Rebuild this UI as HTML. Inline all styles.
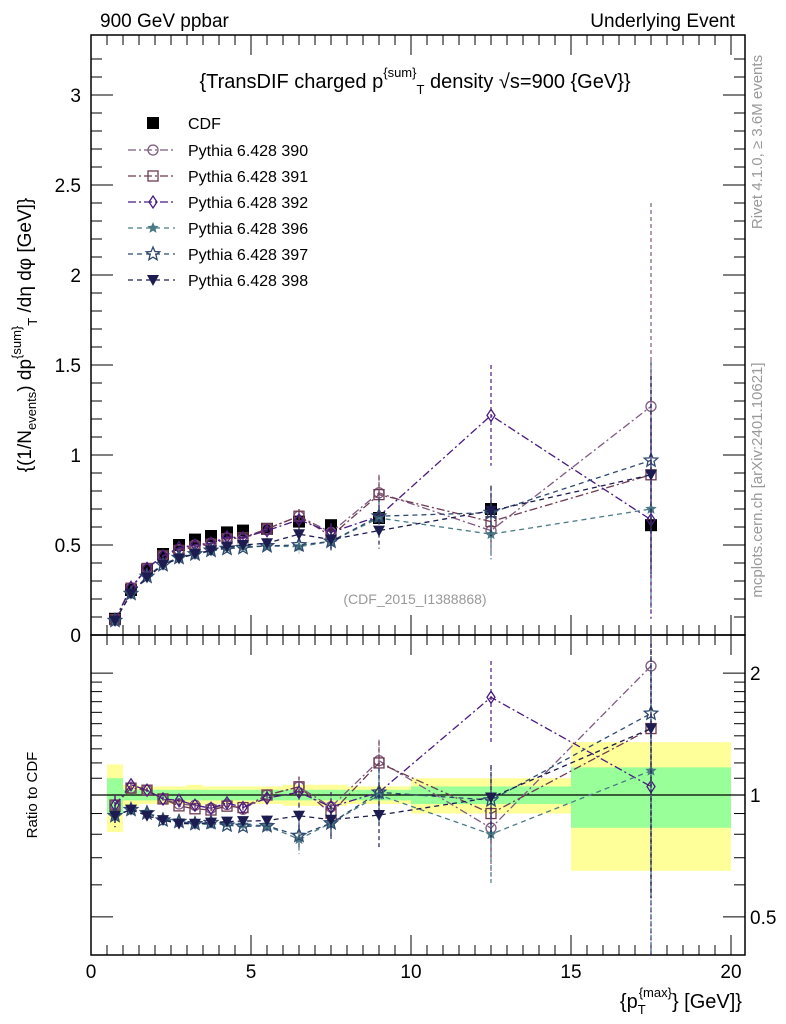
<!DOCTYPE html>
<html><head><meta charset="utf-8"><style>
body{margin:0;background:#fff;}
svg{display:block;font-family:"Liberation Sans",sans-serif;}
</style></head><body>
<svg id="c" width="786" height="1024" xmlns="http://www.w3.org/2000/svg"></svg>
<script>
const xs=[0.75,1.25,1.75,2.25,2.75,3.25,3.75,4.25,4.75,5.5,6.5,7.5,9,12.5,17.5];
const cdf=[0.09,0.25,0.36,0.45,0.50,0.53,0.55,0.57,0.58,0.59,0.63,0.61,0.65,0.70,0.61];
const cdfErr=[0.005,0.005,0.005,0.005,0.005,0.005,0.005,0.005,0.006,0.006,0.008,0.01,0.015,0.03,0.05];
const s390=[0.085,0.26,0.37,0.44,0.475,0.50,0.51,0.54,0.535,0.59,0.66,0.57,0.79,0.58,1.27];
const s391=[0.085,0.26,0.37,0.44,0.47,0.49,0.505,0.535,0.54,0.59,0.66,0.55,0.78,0.63,0.89];
const s392=[0.085,0.265,0.37,0.44,0.485,0.50,0.51,0.545,0.54,0.58,0.64,0.57,0.66,1.22,0.64];
const s396=[0.08,0.23,0.325,0.395,0.43,0.45,0.465,0.485,0.49,0.495,0.49,0.52,0.65,0.56,0.70];
const s397=[0.08,0.23,0.325,0.39,0.43,0.45,0.47,0.48,0.485,0.495,0.50,0.52,0.66,0.68,0.97];
const s398=[0.08,0.23,0.32,0.39,0.425,0.45,0.47,0.49,0.50,0.51,0.56,0.53,0.58,0.69,0.89];
const mcErr=[0.005,0.005,0.005,0.006,0.006,0.007,0.008,0.01,0.012,0.015,0.04,0.05,0.1,0.14,0.55];
const err390=[0.005,0.005,0.005,0.006,0.006,0.007,0.008,0.01,0.012,0.015,0.04,0.05,0.1,0.14,1.13];
const err392=[0.005,0.005,0.005,0.006,0.006,0.007,0.008,0.01,0.012,0.015,0.04,0.05,0.1,0.28,0.55];
const binEdges=[0.5,1,1.5,2,2.5,3,3.5,4,4.5,5,6,7,8,10,15,20];
const bandY=[0.19,0.06,0.05,0.05,0.05,0.06,0.05,0.05,0.05,0.05,0.06,0.06,0.05,0.1,0.35];
const bandG=[0.1,0.03,0.03,0.03,0.03,0.03,0.03,0.03,0.03,0.03,0.03,0.03,0.03,0.05,0.17];
const xTicks=[0,5,10,15,20];
const yTicks=[0,0.5,1,1.5,2,2.5,3];
const rTicks=[0.5,1,2];

const S=document.getElementById('c');const NS='http://www.w3.org/2000/svg';
function mk(t,a,p){const e=document.createElementNS(NS,t);for(const k in a)e.setAttribute(k,a[k]);(p||S).appendChild(e);return e;}
const L=91,R=745,T=35,MB=635,RB=955;
const X=v=>L+v*32;
const Y=v=>MB-v*180;
const YR=v=>795-405*Math.log10(v);

const gb=mk('g',{});
for(let i=0;i<bandY.length;i++){
 const x0=X(binEdges[i]),x1=X(binEdges[i+1]);
 mk('rect',{x:x0,y:YR(1+bandY[i]),width:x1-x0,height:YR(1-bandY[i])-YR(1+bandY[i]),fill:'#ffff99'},gb);
}
for(let i=0;i<bandG.length;i++){
 const x0=X(binEdges[i]),x1=X(binEdges[i+1]);
 mk('rect',{x:x0,y:YR(1+bandG[i]),width:x1-x0,height:YR(1-bandG[i])-YR(1+bandG[i]),fill:'#99ff99'},gb);
}
mk('line',{x1:L,x2:R,y1:YR(1),y2:YR(1),stroke:'#000','stroke-width':1.3});

const f1=mk('rect',{x:L,y:T,width:R-L,height:MB-T,fill:'none',stroke:'#000','stroke-width':1.5});

const f2=mk('rect',{x:L,y:MB,width:R-L,height:RB-MB,fill:'none',stroke:'#000','stroke-width':1.5});


for(let v=0;v<=20.01;v+=0.5){
 const big=Math.abs(v%5)<1e-6;const len=big?20:10;
 [[T,1],[MB,-1],[MB,1],[RB,-1]].forEach(([y,d])=>mk('line',{x1:X(v),x2:X(v),y1:y,y2:y+d*len,stroke:'#000','stroke-width':1}));
}
xTicks.forEach(v=>{const t=mk('text',{x:X(v),y:978,'font-size':19,'text-anchor':'middle'});t.textContent=v;
 });
for(let v=0;v<=3.3;v+=0.1){const big=Math.abs(v*2-Math.round(v*2))<1e-6;const len=big?22:11;const y=Y(v);
 mk('line',{x1:L,x2:L+len,y1:y,y2:y,stroke:'#000'});mk('line',{x1:R,x2:R-len,y1:y,y2:y,stroke:'#000'});}
yTicks.forEach(v=>{const t=mk('text',{x:81,y:Y(v)+7,'font-size':19,'text-anchor':'end'});t.textContent=v;
 });
for(let v of [0.4,0.5,0.6,0.7,0.8,0.9,1,1.1,1.2,1.3,1.4,1.5,1.6,1.7,1.8,1.9,2]){const y=YR(v);if(y>RB||y<MB)continue;
 const big=(v==0.5||v==1||v==2);const len=big?22:11;
 mk('line',{x1:L,x2:L+len,y1:y,y2:y,stroke:'#000'});mk('line',{x1:R,x2:R-len,y1:y,y2:y,stroke:'#000'});}
rTicks.forEach(v=>{const t=mk('text',{x:750,y:YR(v)+7,'font-size':19});t.textContent=v;
 });

const series=[
 {n:'390',d:s390,e:err390,c:'#7e5a80',m:'circle',dash:'8,3,2,3'},
 {n:'391',d:s391,e:mcErr,c:'#6e3a50',m:'square',dash:'8,3,2,3'},
 {n:'392',d:s392,e:err392,c:'#4a1a80',m:'diamond',dash:'8,3,2,3'},
 {n:'396',d:s396,e:mcErr,c:'#4a7a84',m:'star',dash:'5,4'},
 {n:'397',d:s397,e:mcErr,c:'#2e4a6e',m:'ostar',dash:'5,4'},
 {n:'398',d:s398,e:mcErr,c:'#1c1c50',m:'tri',dash:'5,4'}];
function star(x,y,r){let p=[];for(let i=0;i<10;i++){const a=-Math.PI/2+i*Math.PI/5;const rr=i%2?r*0.45:r;p.push((x+rr*Math.cos(a)).toFixed(1)+','+(y+rr*Math.sin(a)).toFixed(1));}return p.join(' ');}
function marker(g,m,x,y,c){
 if(m=='circle')mk('circle',{cx:x,cy:y,r:5,fill:'none',stroke:c,'stroke-width':1.3},g);
 if(m=='square')mk('rect',{x:x-5,y:y-5,width:10,height:10,fill:'none',stroke:c,'stroke-width':1.3},g);
 if(m=='diamond')mk('polygon',{points:`${x},${y-6} ${x+4},${y} ${x},${y+6} ${x-4},${y}`,fill:'none',stroke:c,'stroke-width':1.3},g);
 if(m=='star')mk('polygon',{points:star(x,y,6),fill:c},g);
 if(m=='ostar')mk('polygon',{points:star(x,y,7),fill:'none',stroke:c,'stroke-width':1.3},g);
 if(m=='tri')mk('polygon',{points:`${x-6},${y-5} ${x+6},${y-5} ${x},${y+6}`,fill:c},g);
 if(m=='sq')mk('rect',{x:x-6,y:y-6,width:12,height:12,fill:c},g);
}
const gc=mk('g',{});
xs.forEach((x,i)=>{mk('line',{x1:X(x),x2:X(x),y1:Y(cdf[i]+cdfErr[i]),y2:Y(cdf[i]-cdfErr[i]),stroke:'#000'},gc);marker(gc,'sq',X(x),Y(cdf[i]),'#000');});
series.forEach(s=>{
 const g=mk('g',{});
 const pm=xs.map((x,i)=>X(x)+','+Y(s.d[i])).join(' ');
 mk('polyline',{points:pm,fill:'none',stroke:s.c,'stroke-width':1.3,'stroke-dasharray':s.dash},g);
 const pr=xs.map((x,i)=>X(x)+','+YR(s.d[i]/cdf[i])).join(' ');
 mk('polyline',{points:pr,fill:'none',stroke:s.c,'stroke-width':1.3,'stroke-dasharray':s.dash},g);
 xs.forEach((x,i)=>{
  const v=s.d[i],e=s.e[i];
  mk('line',{x1:X(x),x2:X(x),y1:Y(v+e),y2:Math.min(MB,Y(Math.max(v-e,0.001))),stroke:s.c,'stroke-width':1.2,'stroke-dasharray':'4,3'},g);
  marker(g,s.m,X(x),Y(v),s.c);
  const r=v/cdf[i],re=e/cdf[i];
  const lo=Math.max(r-re,0.3);
  mk('line',{x1:X(x),x2:X(x),y1:Math.max(MB,YR(r+re)),y2:Math.min(RB,YR(lo)),stroke:s.c,'stroke-width':1.2,'stroke-dasharray':'4,3'},g);
  marker(g,s.m,X(x),YR(r),s.c);
 });
});

const lg=mk('g',{});
marker(lg,'sq',153,123,'#000');
let t=mk('text',{x:188,y:129,'font-size':16},lg);t.textContent='CDF';
series.forEach((s,i)=>{const y=150+i*26;
 mk('line',{x1:128,x2:175,y1:y,y2:y,stroke:s.c,'stroke-width':1.3,'stroke-dasharray':s.dash},lg);
 marker(lg,s.m,153,y,s.c);
 const tt=mk('text',{x:188,y:y+6,'font-size':16},lg);tt.textContent='Pythia 6.428 '+s.n;
 });

function txt(x,y,s,attrs,name){const e=mk('text',Object.assign({x:x,y:y},attrs));e.innerHTML=s;return e;}
txt(100,27,'900 GeV ppbar',{'font-size':19},'top-left-label');
txt(735,27,'Underlying Event',{'font-size':19,'text-anchor':'end'},'top-right-label');
txt(415,88,'{TransDIF charged p<tspan dy="-11" font-size="13">{sum}</tspan><tspan dy="17" font-size="13">T</tspan><tspan dy="-6"> density √s=900 {GeV}}</tspan>',{'font-size':20,'text-anchor':'middle'},'plot-title');
txt(415,604,'(CDF_2015_I1388868)',{'font-size':14,fill:'#999','text-anchor':'middle'},'analysis-id');
txt(0,0,'{(1/N<tspan dy="5" font-size="13">events</tspan><tspan dy="-5">) dp</tspan><tspan dy="-10" font-size="13">{sum}</tspan><tspan dy="16" font-size="13">T</tspan><tspan dy="-6"> /dη  dφ [GeV]}</tspan>',{'font-size':19,'text-anchor':'middle',transform:'translate(31,335) rotate(-90)'},'y-axis-title');
txt(0,0,'Ratio to CDF',{'font-size':15,'text-anchor':'middle',transform:'translate(37,795) rotate(-90)'},'ratio-axis-title');
txt(742,1008,'{p<tspan dy="6" font-size="13">T</tspan><tspan dy="-17" dx="-7" font-size="13">{max}</tspan><tspan dy="11">} [GeV]}</tspan>',{'font-size':20,'text-anchor':'end'},'x-axis-title');
txt(0,0,'Rivet 4.1.0, ≥ 3.6M events',{'font-size':15,fill:'#999','text-anchor':'middle',transform:'translate(762,142) rotate(-90)'},'rivet-label');
txt(0,0,'mcplots.cern.ch [arXiv:2401.10621]',{'font-size':15,fill:'#999','text-anchor':'middle',transform:'translate(762,480) rotate(-90)'},'mcplots-label');
</script>
</body></html>
